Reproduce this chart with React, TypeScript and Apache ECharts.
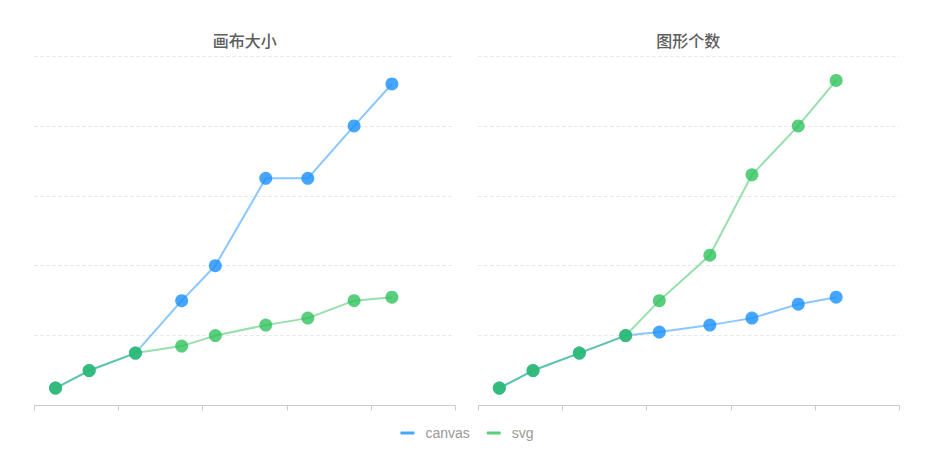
import React, { useEffect, useRef } from "react";
import * as echarts from "echarts";

const titles = ["画布大小", "图形个数"];
const seriesNames = ["canvas", "svg"];
const xValues = [0.25, 0.65, 1.2, 1.75, 2.15, 2.75, 3.25, 3.8, 4.25];
const sizeCanvas = [0.25, 0.5, 0.75, 1.5, 2.0, 3.25, 3.25, 4.0, 4.6];
const sizeSvg = [0.25, 0.5, 0.75, 0.85, 1.0, 1.15, 1.25, 1.5, 1.55];
const countCanvas = [0.25, 0.5, 0.75, 1.0, 1.05, 1.15, 1.25, 1.45, 1.55];
const countSvg = [0.25, 0.5, 0.75, 1.0, 1.5, 2.15, 3.3, 4.0, 4.65];

const colors = ["#1890ff", "#2fc25b"];

const pairs = (ys: number[]) => xValues.map((x, i) => [x, ys[i]]);

export default function App() {
  const ref = useRef<HTMLDivElement>(null);
  useEffect(() => {
    if (!ref.current) return;
    const chart = echarts.init(ref.current, undefined, { renderer: "svg" });
    const grids = [
      { left: 34.5, right: 479, top: 56, bottom: 56.5 },
      { left: 478.3, right: 34.7, top: 56, bottom: 56.5 },
    ];
    const xAxis = grids.map((_, i) => ({
      type: "value",
      gridIndex: i,
      min: 0,
      max: 5,
      interval: 1,
      axisLine: { show: true, lineStyle: { color: "#cccccc", width: 1 } },
      axisTick: { show: true, length: 5, lineStyle: { color: "#cccccc" } },
      axisLabel: { show: false },
      splitLine: { show: false },
    }));
    const yAxis = grids.map((_, i) => ({
      type: "value",
      gridIndex: i,
      min: 0,
      max: 5,
      interval: 1,
      axisLine: { show: false },
      axisTick: { show: false },
      axisLabel: { show: false },
      splitLine: { show: true, lineStyle: { color: "#e6e6e6", type: [3, 3] } },
    }));
    const mk = (name: string, ci: number, gi: number, data: number[]) => ({
      name,
      type: "line",
      xAxisIndex: gi,
      yAxisIndex: gi,
      data: pairs(data),
      symbol: "circle",
      symbolSize: 13,
      showSymbol: true,
      itemStyle: { color: colors[ci], opacity: 0.8 },
      lineStyle: { color: colors[ci], width: 2, opacity: 0.5 },
    });
    const titleStyle = { fontSize: 16, fontWeight: 500, color: "#5e5e5e", fontFamily: "Noto Sans CJK SC" };
    chart.setOption({
      animation: false,
      color: colors,
      title: [
        { text: titles[0], left: 239.8, textAlign: "center", top: 27, textStyle: titleStyle },
        { text: titles[1], left: 683.3, textAlign: "center", top: 27, textStyle: titleStyle },
      ],
      legend: {
        data: seriesNames,
        top: 421,
        left: "center",
        icon: "roundRect",
        itemWidth: 14,
        itemHeight: 3,
        itemGap: 17,
        textStyle: {
          fontSize: 14,
          color: "#999999",
          fontFamily: "Liberation Sans, Arial, sans-serif",
          padding: [0, 0, 0, 6],
        },
      },
      grid: grids,
      xAxis,
      yAxis,
      series: [
        mk(seriesNames[0], 0, 0, sizeCanvas),
        mk(seriesNames[1], 1, 0, sizeSvg),
        mk(seriesNames[0], 0, 1, countCanvas),
        mk(seriesNames[1], 1, 1, countSvg),
      ],
    });
    return () => chart.dispose();
  }, []);
  return (
    <div
      ref={ref}
      style={{ position: "fixed", left: 0, top: 0, width: 934, height: 462, background: "#fff" }}
    />
  );
}
